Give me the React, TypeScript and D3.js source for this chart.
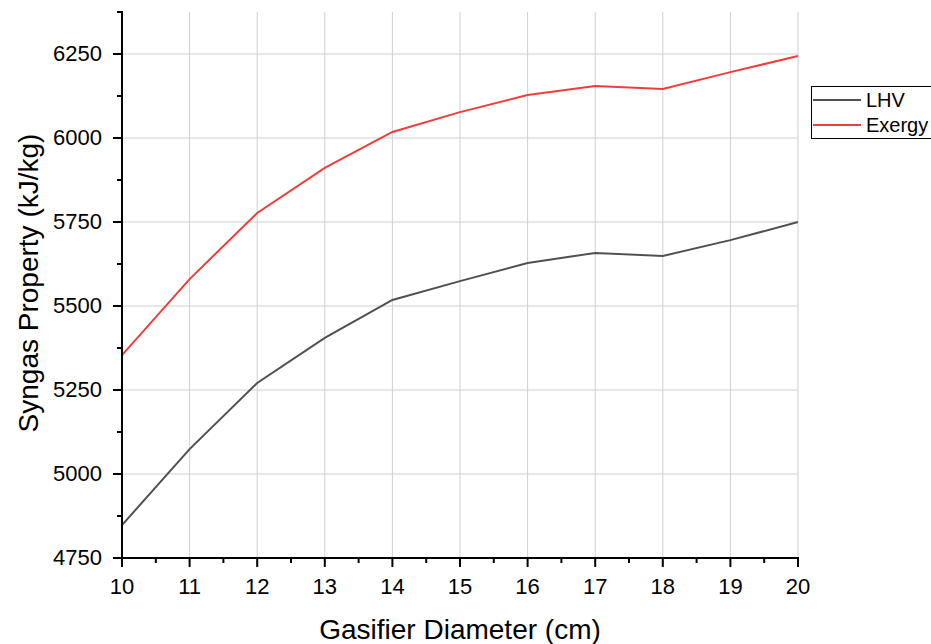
import React from "react";
import * as d3 from "d3";

const diameters = [10, 11, 12, 13, 14, 15, 16, 17, 18, 19, 20];
const lhv = [4848, 5074, 5271, 5405, 5518, 5574, 5628, 5658, 5649, 5696, 5750];
const exergy = [5354, 5580, 5777, 5911, 6018, 6077, 6128, 6155, 6146, 6196, 6244];
const seriesNames = ["LHV", "Exergy"];
const seriesColors = ["#505050", "#f23c3c"];
const yTicks = [4750, 5000, 5250, 5500, 5750, 6000, 6250];
const xTicks = [10, 11, 12, 13, 14, 15, 16, 17, 18, 19, 20];

export default function App() {
  const W = 931, H = 644;
  const left = 122, right = 798, top = 12, bottom = 558;
  const x = d3.scaleLinear().domain([10, 20]).range([left, right]);
  const y = d3.scaleLinear().domain([4750, 6250]).range([bottom, 54]);
  const yTop = y.invert(top);
  const yMinor = d3.range(4875, yTop + 1, 250);
  const xMinor = d3.range(10.5, 20, 1);
  const line = d3.line<number>().x((_, i) => x(diameters[i])).y((v) => y(v));
  const series = [lhv, exergy];
  const font = "Arial, 'Liberation Sans', sans-serif";
  return (
    <svg width={W} height={H} style={{ position: "absolute", left: 0, top: 0 }} fontFamily={font}>
      <rect width={W} height={H} fill="#fff" />
      {xTicks.filter((t) => t > 10).map((t) => (
        <line key={"gx" + t} x1={x(t)} x2={x(t)} y1={top} y2={bottom} stroke="#d0d0d0" strokeWidth={1} />
      ))}
      {yTicks.filter((t) => t > 4750).map((t) => (
        <line key={"gy" + t} x1={left} x2={right} y1={y(t)} y2={y(t)} stroke="#d0d0d0" strokeWidth={1} />
      ))}
      {series.map((s, i) => (
        <path key={seriesNames[i]} d={line(s) || ""} fill="none" stroke={seriesColors[i]} strokeWidth={2} />
      ))}
      {/* axes */}
      <line x1={left} x2={left} y1={top - 1} y2={bottom + 1} stroke="#000" strokeWidth={2} />
      <line x1={left - 1} x2={right + 1} y1={bottom} y2={bottom} stroke="#000" strokeWidth={2} />
      {yTicks.map((t) => (
        <g key={"yt" + t}>
          <line x1={left - 9} x2={left} y1={y(t)} y2={y(t)} stroke="#000" strokeWidth={2} />
          <text x={left - 20} y={y(t) + 6.5} textAnchor="end" fontSize={22}>{t}</text>
        </g>
      ))}
      {yMinor.map((t) => (
        <line key={"ym" + t} x1={left - 5} x2={left} y1={y(t)} y2={y(t)} stroke="#000" strokeWidth={2} />
      ))}
      {xTicks.map((t) => (
        <g key={"xt" + t}>
          <line x1={x(t)} x2={x(t)} y1={bottom} y2={bottom + 9} stroke="#000" strokeWidth={2} />
          <text x={x(t)} y={594} textAnchor="middle" fontSize={22}>{t}</text>
        </g>
      ))}
      {xMinor.map((t) => (
        <line key={"xm" + t} x1={x(t)} x2={x(t)} y1={bottom} y2={bottom + 5} stroke="#000" strokeWidth={2} />
      ))}
      <text x={460} y={639} textAnchor="middle" fontSize={28}>Gasifier Diameter (cm)</text>
      <text transform={`translate(38, 283) rotate(-90)`} textAnchor="middle" fontSize={28}>
        Syngas Property (kJ/kg)
      </text>
      {/* legend */}
      <rect x={811.5} y={86.5} width={125} height={52} fill="#fff" stroke="#000" strokeWidth={1} />
      {seriesNames.map((n, i) => (
        <g key={"lg" + n}>
          <line x1={813} x2={861} y1={100 + i * 25} y2={100 + i * 25} stroke={seriesColors[i]} strokeWidth={2} />
          <text x={866} y={100 + i * 25 + 7} fontSize={20}>{n}</text>
        </g>
      ))}
    </svg>
  );
}
